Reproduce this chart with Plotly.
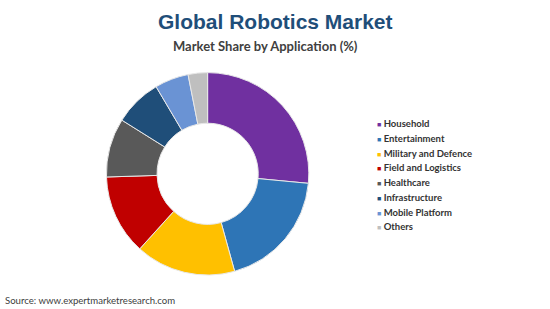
import plotly.graph_objects as go

categories = ["Household", "Entertainment", "Military and Defence", "Field and Logistics",
              "Healthcare", "Infrastructure", "Mobile Platform", "Others"]
shares = [26.5, 19.2, 16.0, 12.8, 9.4, 7.6, 5.4, 3.1]
colors = ["#7030A0", "#2E75B6", "#FFC000", "#C00000", "#595959", "#1F4E79", "#6A93D4", "#BFBFBF"]

fig = go.Figure(go.Pie(
    labels=categories,
    values=shares,
    hole=0.5,
    sort=False,
    direction="clockwise",
    rotation=0,
    marker=dict(colors=colors, line=dict(color="#E8E8E8", width=1)),
    textinfo="none",
    domain=dict(x=[0.19, 0.565], y=[0.11, 0.765]),
    showlegend=False,
))

annotations = [
    dict(text="<b>Global Robotics Market</b>", x=0.5, y=0.932, xref="paper", yref="paper",
         xanchor="center", yanchor="middle", showarrow=False,
         font=dict(family="Liberation Sans", size=21, color="#1F4E79")),
    dict(text="<b>Market Share by Application (%)</b>", x=0.483, y=0.851, xref="paper", yref="paper",
         xanchor="center", yanchor="middle", showarrow=False,
         font=dict(family="Lato", size=13, color="#404040")),
    dict(text="Source: www.expertmarketresearch.com", x=0.006, y=0.029, xref="paper", yref="paper",
         xanchor="left", yanchor="middle", showarrow=False,
         font=dict(family="Lato", size=9.6, color="#404040")),
]

# legend built from the category arrays
leg_x = 0.682
leg_top = 1 - 123.5 / 309
leg_step = 14.75 / 309
for i, (cat, col) in enumerate(zip(categories, colors)):
    annotations.append(dict(
        text=f"<span style='color:{col};font-size:7px'>■</span> <b>{cat}</b>",
        x=leg_x, y=leg_top - i * leg_step, xref="paper", yref="paper",
        xanchor="left", yanchor="middle", showarrow=False,
        font=dict(family="Lato", size=9.5, color="#333333"),
    ))

fig.update_layout(
    width=550, height=309,
    margin=dict(l=0, r=0, t=0, b=0),
    paper_bgcolor="white",
    plot_bgcolor="white",
    annotations=annotations,
)

fig.write_html("out.html")
